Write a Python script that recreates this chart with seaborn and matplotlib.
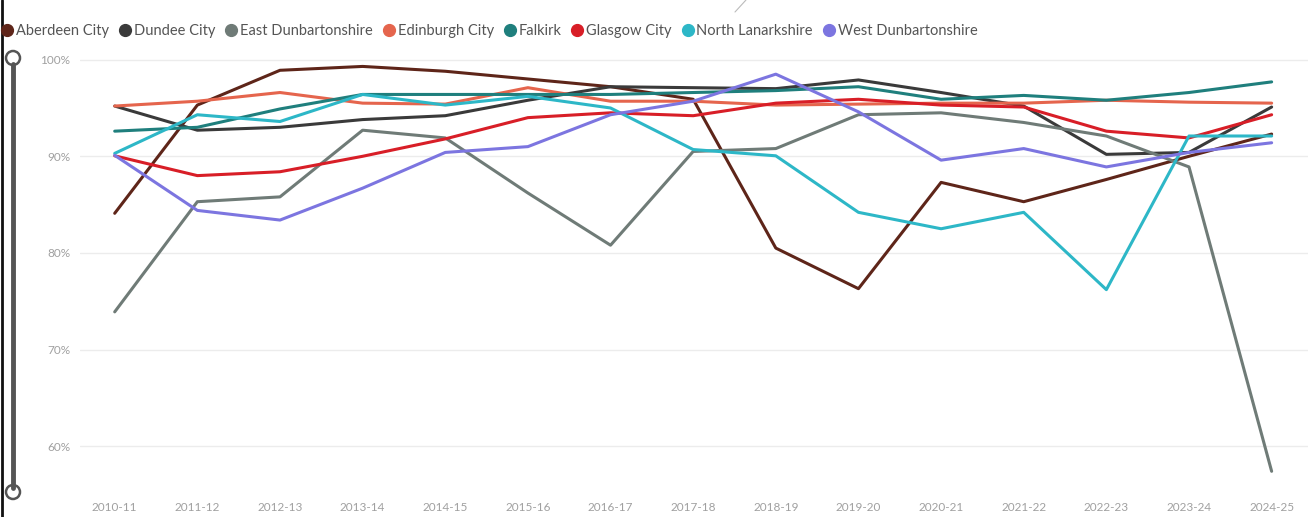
import numpy as np
import pandas as pd
import matplotlib
matplotlib.use("Agg")
import matplotlib.pyplot as plt
from matplotlib.lines import Line2D
from matplotlib.patches import Ellipse
import seaborn as sns

years = ["2010-11", "2011-12", "2012-13", "2013-14", "2014-15", "2015-16", "2016-17",
         "2017-18", "2018-19", "2019-20", "2020-21", "2021-22", "2022-23", "2023-24", "2024-25"]

aberdeen = [84.1, 95.3, 98.9, 99.3, 98.8, 98.0, 97.2, 95.9, 80.5, 76.3, 87.3, 85.3, 87.6, 90.0, 92.3]
dundee = [95.2, 92.7, 93.0, 93.8, 94.2, 95.8, 97.2, 97.1, 97.0, 97.9, 96.6, 95.2, 90.2, 90.4, 95.1]
east_dunb = [73.9, 85.3, 85.8, 92.7, 91.9, 86.2, 80.8, 90.5, 90.8, 94.3, 94.5, 93.5, 92.1, 88.9, 57.4]
edinburgh = [95.2, 95.7, 96.6, 95.5, 95.4, 97.1, 95.7, 95.7, 95.3, 95.4, 95.5, 95.5, 95.8, 95.6, 95.5]
falkirk = [92.6, 93.0, 94.9, 96.4, 96.4, 96.4, 96.4, 96.6, 96.8, 97.2, 95.9, 96.3, 95.8, 96.6, 97.7]
glasgow = [90.05, 88.0, 88.4, 90.0, 91.8, 94.0, 94.5, 94.2, 95.5, 95.9, 95.3, 95.1, 92.6, 91.9, 94.3]
north_lan = [90.3, 94.3, 93.6, 96.4, 95.3, 96.2, 95.0, 90.7, 90.05, 84.2, 82.5, 84.2, 76.2, 92.1, 92.1]
west_dunb = [90.1, 84.4, 83.4, 86.7, 90.4, 91.0, 94.3, 95.7, 98.5, 94.6, 89.6, 90.8, 88.9, 90.4, 91.4]

councils = ["Aberdeen City", "Dundee City", "East Dunbartonshire", "Edinburgh City",
            "Falkirk", "Glasgow City", "North Lanarkshire", "West Dunbartonshire"]
series = [aberdeen, dundee, east_dunb, edinburgh, falkirk, glasgow, north_lan, west_dunb]
colors = ["#5e2519", "#3a3a3a", "#6f7b77", "#e5654d", "#1f7f7d", "#d81e27", "#2db7c7", "#7c75e0"]

y_ticks = [60, 70, 80, 90, 100]
y_tick_labels = ["60%", "70%", "80%", "90%", "100%"]

rows = []
for name, vals in zip(councils, series):
    for i, (yr, v) in enumerate(zip(years, vals)):
        rows.append({"Council": name, "idx": i, "Year": yr, "Value": v})
df = pd.DataFrame(rows)

sns.set_theme(style="white")
plt.rcParams["font.family"] = ["Lato", "DejaVu Sans"]

W, H = 1315, 517
fig = plt.figure(figsize=(W / 100, H / 100), dpi=100)
ax = fig.add_axes([80 / W, 1 - 480 / H, (1308 - 80) / W, (480 - 50) / H])

sns.lineplot(data=df, x="idx", y="Value", hue="Council", hue_order=councils,
             palette=dict(zip(councils, colors)), linewidth=2.2, ax=ax,
             legend=False, sort=False, errorbar=None)

ax.set_xlim(-0.42, 14.44)
ax.set_ylim(56.5, 101.0)
ax.set_xticks(range(len(years)))
ax.set_xticklabels(years)
ax.set_yticks(y_ticks)
ax.set_yticklabels(y_tick_labels)
ax.tick_params(axis="both", length=0, labelsize=8.5, labelcolor="#a0a0a0")
ax.tick_params(axis="x", pad=16)
ax.tick_params(axis="y", pad=7)
ax.set_xlabel("")
ax.set_ylabel("")
ax.yaxis.grid(True, color="#ececec", linewidth=1)
ax.xaxis.grid(False)
for s in ax.spines.values():
    s.set_visible(False)
ax.set_axisbelow(True)

handles = [Line2D([0], [0], marker="o", linestyle="", markersize=8.5,
                  markerfacecolor=c, markeredgecolor=c) for c in colors]
leg = fig.legend(handles, councils, loc="upper left", bbox_to_anchor=(0.0, 1 - 24 / H),
                 ncol=8, frameon=False, fontsize=10.5, handletextpad=0.1,
                 columnspacing=0.6, handlelength=1.0, borderaxespad=0, borderpad=0)
for t in leg.get_texts():
    t.set_color("#555555")

# left frame line and slider
fig.add_artist(Line2D([1.5 / W, 1.5 / W], [0, 1], color="#111111", linewidth=2.0))
fig.add_artist(Line2D([13 / W, 13 / W], [1 - 64 / H, 1 - 488 / H], color="#555555", linewidth=3.5))
for yy in (58, 492):
    fig.add_artist(Ellipse((13 / W, 1 - yy / H), 14 / W, 14 / H, facecolor="white",
                           edgecolor="#555555", linewidth=1.8))
# small artifact stroke near top
fig.add_artist(Line2D([735 / W, 746 / W], [1 - 12 / H, 1 - 0 / H], color="#bbbbbb", linewidth=0.8))

fig.savefig("out.png", dpi=100, facecolor="white")
